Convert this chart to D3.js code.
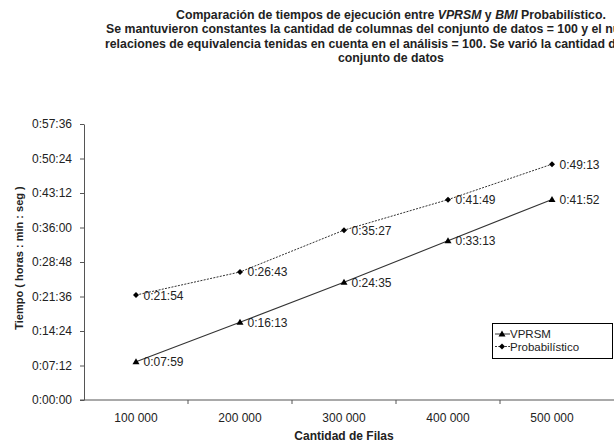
<!DOCTYPE html>
<html><head><meta charset="utf-8">
<script src="https://cdn.jsdelivr.net/npm/d3@7"></script>
<style>body{margin:0;background:#fff}svg{display:block;font-family:"Liberation Sans",Arial,sans-serif}</style>
</head><body><svg id="c" width="614" height="445"></svg>
<script>
const categories = ["100 000","200 000","300 000","400 000","500 000"];
const vprsm = ["0:07:59","0:16:13","0:24:35","0:33:13","0:41:52"];
const probabilistico = ["0:21:54","0:26:43","0:35:27","0:41:49","0:49:13"];
const yTicks = ["0:00:00","0:07:12","0:14:24","0:21:36","0:28:48","0:36:00","0:43:12","0:50:24","0:57:36"];
const titleLines = [
  "Comparación de tiempos de ejecución entre |VPRSM| y |BMI| Probabilístico.",
  "Se mantuvieron constantes la cantidad de columnas del conjunto de datos = 100  y el número de",
  "relaciones de equivalencia tenidas en cuenta en el análisis = 100. Se varió la cantidad de filas del",
  "conjunto de datos"
];

const toSec = s => { const p = s.split(":").map(Number); return p[0]*3600+p[1]*60+p[2]; };
const svg = d3.select("#c");
const L = 84, R = 604, T = 124, B = 400;
const x = d3.scaleBand().domain(categories).range([L, R]);
const y = d3.scaleLinear().domain([0, toSec("0:57:36")]).range([B, T]);
const col = "#222";
const FS = 12;

// y axis
const yAxis = d3.axisLeft(y).tickValues(yTicks.map(toSec)).tickFormat((d,i)=>yTicks[i]).tickSize(4).tickSizeOuter(0);
const ga = svg.append("g").attr("transform",`translate(${L},0)`).call(yAxis);
ga.select(".domain").attr("stroke","#555");
ga.selectAll(".tick line").attr("stroke","#555");
ga.selectAll("text").attr("font-size",FS).attr("fill",col).attr("x",-12).attr("font-family","Liberation Sans, Arial");

// x axis
const xAxis = d3.axisBottom(x).tickSize(0).tickSizeOuter(0);
const gx = svg.append("g").attr("transform",`translate(0,${B})`).call(xAxis);
gx.select(".domain").attr("stroke","#555").attr("d",`M${L-4},0H614`);
gx.selectAll("text").attr("font-size",FS).attr("fill",col).attr("dy","1.55em").attr("font-family","Liberation Sans, Arial");
categories.slice(1).forEach(c=>{
  gx.append("line").attr("x1",x(c)).attr("x2",x(c)).attr("y1",0).attr("y2",4).attr("stroke","#555");
});

// axis titles
svg.append("text").attr("x",344).attr("y",440).attr("text-anchor","middle").attr("font-size",FS).attr("font-weight","bold").attr("fill",col).text("Cantidad de Filas");
svg.append("text").attr("transform","translate(23,258) rotate(-90)").attr("text-anchor","middle").attr("font-size",11).attr("font-weight","bold").attr("fill",col).text("Tiempo ( horas : min : seg )");

// title
const tt = svg.append("text").attr("font-size",12.3).attr("font-weight","bold").attr("fill",col);
const starts = [176, 106, 105, 338];
titleLines.forEach((ln,i)=>{
  const t = tt.append("tspan").attr("x", starts[i]).attr("y", 19 + i*14.3);
  ln.split("|").forEach((part,j)=>{ t.append("tspan").attr("font-style", j%2 ? "italic" : null).text(part); });
});

const cx = c => x(c) + x.bandwidth()/2;
const line = d3.line().x((d,i)=>cx(categories[i])).y(d=>y(toSec(d)));

// series
svg.append("path").datum(probabilistico).attr("d",line).attr("fill","none").attr("stroke","#333").attr("stroke-width",1).attr("stroke-dasharray","2,1.3");
svg.append("path").datum(vprsm).attr("d",line).attr("fill","none").attr("stroke","#333").attr("stroke-width",1.1);

const triPath = "M0,-3.5L3.5,2.5L-3.5,2.5Z";
const diaPath = "M0,-3L3,0L0,3L-3,0Z";
svg.selectAll(".tv").data(vprsm).join("path").attr("d",triPath).attr("fill","#000")
  .attr("transform",(d,i)=>`translate(${cx(categories[i])},${y(toSec(d))})`);
svg.selectAll(".dp").data(probabilistico).join("path").attr("d",diaPath).attr("fill","#000")
  .attr("transform",(d,i)=>`translate(${cx(categories[i])},${y(toSec(d))})`);

[vprsm, probabilistico].forEach(s=>{
  svg.append("g").selectAll("text").data(s).join("text")
    .attr("x",(d,i)=>cx(categories[i])+7.5).attr("y",d=>y(toSec(d))+4.5)
    .attr("font-size",FS).attr("fill",col).text(d=>d);
});

// legend
const lg = svg.append("g");
lg.append("rect").attr("x",492.5).attr("y",323.5).attr("width",120).attr("height",35).attr("fill","#fff").attr("stroke","#000");
lg.append("line").attr("x1",495).attr("x2",510).attr("y1",334).attr("y2",334).attr("stroke","#333");
lg.append("path").attr("d",triPath).attr("fill","#000").attr("transform","translate(502,334)");
lg.append("text").attr("x",510).attr("y",338).attr("font-size",11.5).attr("fill",col).text("VPRSM");
lg.append("line").attr("x1",495).attr("x2",510).attr("y1",346.5).attr("y2",346.5).attr("stroke","#333").attr("stroke-dasharray","2,1.3");
lg.append("path").attr("d",diaPath).attr("fill","#000").attr("transform","translate(502,346.5)");
lg.append("text").attr("x",510).attr("y",350.5).attr("font-size",11.5).attr("fill",col).text("Probabilístico");
</script></body></html>
